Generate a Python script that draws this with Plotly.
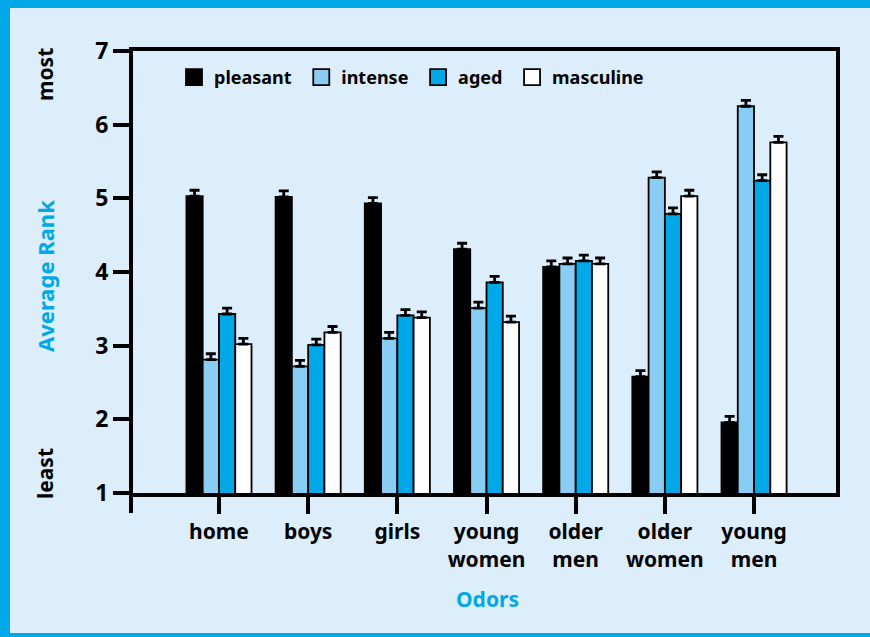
import plotly.graph_objects as go

categories = ["home", "boys", "girls", "young<br>women", "older<br>men", "older<br>women", "young<br>men"]
series_names = ["pleasant", "intense", "aged", "masculine"]
pleasant = [5.03, 5.02, 4.93, 4.31, 4.07, 2.58, 1.96]
intense = [2.81, 2.72, 3.10, 3.51, 4.11, 5.28, 6.25]
aged = [3.43, 3.01, 3.41, 3.86, 4.15, 4.79, 5.24]
masculine = [3.02, 3.18, 3.38, 3.32, 4.11, 5.03, 5.76]
err_pleasant = [0.08, 0.08, 0.08, 0.08, 0.08, 0.08, 0.08]
err_intense = [0.08, 0.08, 0.08, 0.08, 0.08, 0.08, 0.08]
err_aged = [0.08, 0.08, 0.08, 0.08, 0.08, 0.08, 0.08]
err_masculine = [0.08, 0.08, 0.08, 0.08, 0.08, 0.08, 0.08]
y_ticks = [1, 2, 3, 4, 5, 6, 7]

values = [pleasant, intense, aged, masculine]
errors = [err_pleasant, err_intense, err_aged, err_masculine]
colors = ["#000000", "#8acdf4", "#00a8e8", "#ffffff"]

BG = "#dcedfb"
BLUE = "#00a8e8"
FONT = "Noto Sans, Open Sans, sans-serif"

W, H = 870, 637
L, R, T, B = 133, 34, 51, 144
PW, PH = W - L - R, H - T - B


def px_x(p):
    return (p - L) / PW


def px_y(p):
    return 1 - (p - T) / PH


xs = list(range(len(categories)))

fig = go.Figure()
for name, vals, errs, col in zip(series_names, values, errors, colors):
    fig.add_trace(go.Bar(
        x=xs, y=vals, name=name, showlegend=False,
        marker=dict(color=col, line=dict(color="#000000", width=1.8)),
        error_y=dict(type="data", array=errs, arrayminus=[0] * len(errs), symmetric=False,
                     color="#000000", thickness=2.8, width=5),
    ))
for name, col in zip(series_names, colors):
    fig.add_trace(go.Scatter(
        x=[None], y=[None], mode="markers", name=name + "\u00a0",
        marker=dict(symbol="square", size=16, color=col, line=dict(color="#000000", width=1.8)),
    ))

shapes = [
    # light panel inside the blue frame (frame on left, top and bottom only)
    dict(type="rect", xref="paper", yref="paper", x0=px_x(10), x1=px_x(W + 40), y0=px_y(633), y1=px_y(8),
         fillcolor=BG, line=dict(width=0), layer="below"),
    # extra tick under the left axis corner
    dict(type="line", xref="paper", yref="paper", x0=px_x(131), x1=px_x(131), y0=px_y(494), y1=px_y(513),
         line=dict(color="#000000", width=4)),
]

ann_font = dict(family=FONT, size=21, color="#000000", weight="bold")
annotations = [
    dict(text="Average Rank", x=px_x(45), y=px_y(276), xref="paper", yref="paper", textangle=-90,
         xanchor="center", yanchor="middle", showarrow=False,
         font=dict(family=FONT, size=22, color=BLUE, weight="bold")),
    dict(text="most", x=px_x(45), y=px_y(75), xref="paper", yref="paper", textangle=-90,
         xanchor="center", yanchor="middle", showarrow=False, font=ann_font),
    dict(text="least", x=px_x(45), y=px_y(474), xref="paper", yref="paper", textangle=-90,
         xanchor="center", yanchor="middle", showarrow=False, font=ann_font),
    dict(text="Odors", x=px_x(487), y=px_y(599), xref="paper", yref="paper",
         xanchor="center", yanchor="middle", showarrow=False,
         font=dict(family=FONT, size=21, color=BLUE, weight="bold")),
]

fig.update_layout(
    width=W, height=H,
    margin=dict(l=L, r=R, t=T, b=B, pad=0),
    paper_bgcolor=BLUE, plot_bgcolor=BG,
    barmode="group", bargap=0.27, bargroupgap=0,
    font=dict(family=FONT, color="#000000"),
    showlegend=True,
    legend=dict(orientation="h", x=px_x(174), y=px_y(59), xanchor="left", yanchor="top",
                bgcolor="rgba(0,0,0,0)", font=dict(family=FONT, size=18, weight="bold"),
                itemclick=False, traceorder="normal"),
    shapes=shapes, annotations=annotations,
    xaxis=dict(range=[-0.964, 6.919], tickvals=xs, ticktext=categories,
               showgrid=False, zeroline=False, showline=True, linecolor="#000000", linewidth=4,
               mirror=True, ticks="outside", ticklen=17, tickwidth=4, tickcolor="#000000",
               tickfont=dict(family=FONT, size=21, weight="bold")),
    yaxis=dict(range=[1, 7], tickvals=y_ticks,
               showgrid=False, zeroline=False, showline=True, linecolor="#000000", linewidth=4,
               mirror=True, ticks="outside", ticklen=16, tickwidth=4, tickcolor="#000000",
               tickfont=dict(family=FONT, size=23, weight="bold")),
)

fig.write_html("out.html")
